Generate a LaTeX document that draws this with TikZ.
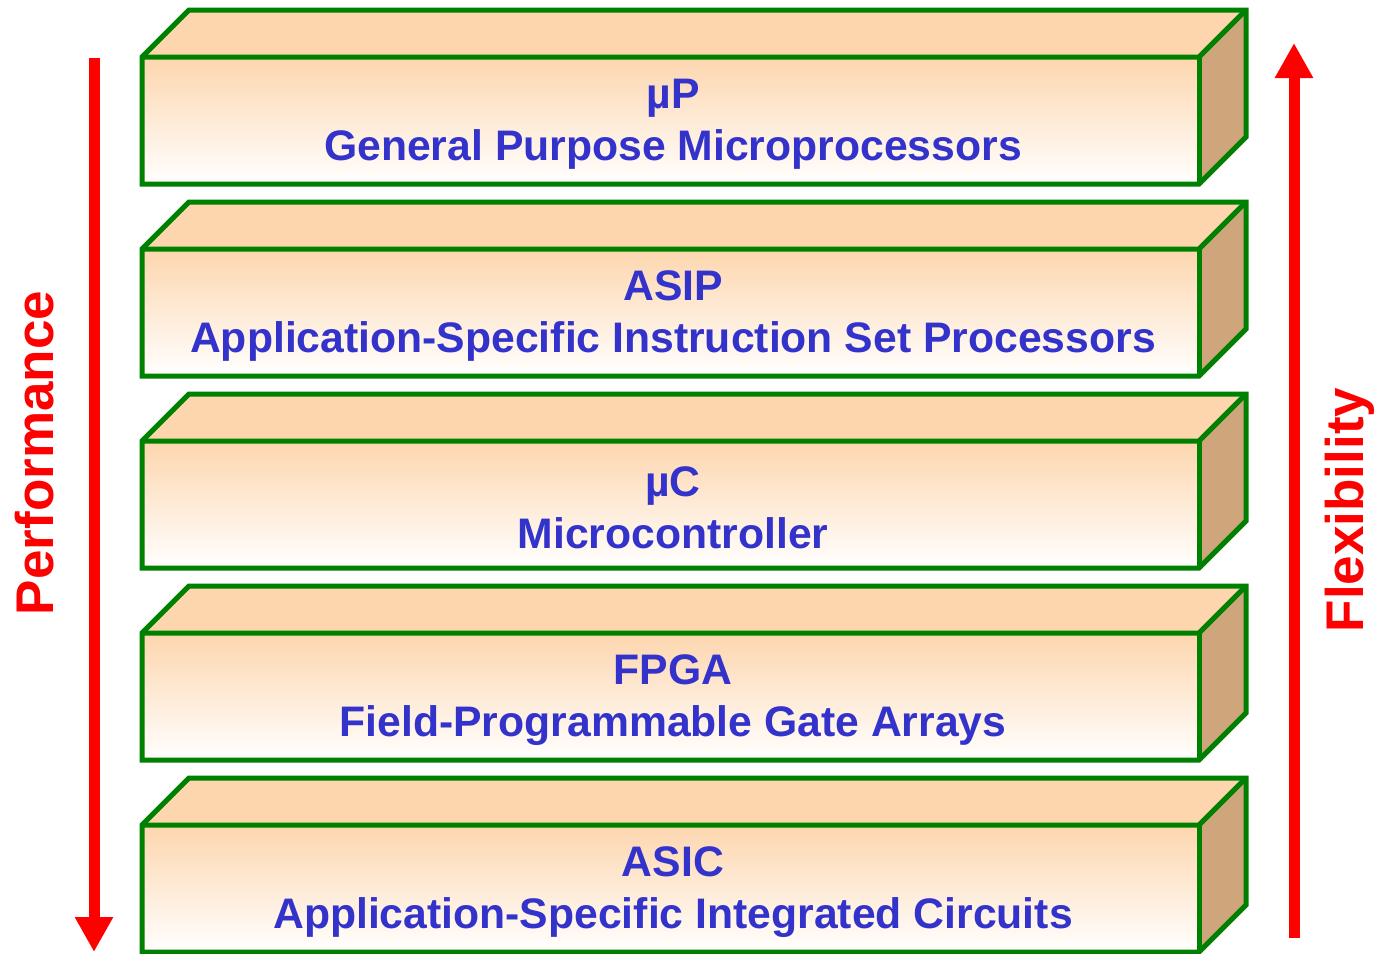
\documentclass[tikz,border=0pt]{standalone}
\usepackage{fontspec}
\setmainfont{Liberation Sans}
\usetikzlibrary{arrows.meta}
\definecolor{edgegreen}{RGB}{0,128,0}
\definecolor{peach}{RGB}{253,214,174}
\definecolor{sidetan}{RGB}{207,165,123}
\definecolor{labelblue}{RGB}{51,51,204}
\definecolor{arrowred}{RGB}{255,0,0}

% One layer of the stack: a box seen from the front, its top and right side
% #1 node name, #2 y of the front face's top edge, #3 short name, #4 long name
\newcommand\stacklayer[4]{%
  \fill[peach] (142,#2) -- (189,{#2-47}) -- (1246,{#2-47}) -- (1199,#2) -- cycle;
  \fill[sidetan] (1199,#2) -- (1246,{#2-47}) -- (1246,{#2+80}) -- (1199,{#2+127}) -- cycle;
  \shade[top color=peach,bottom color=white] (142,#2) rectangle (1199,{#2+127});
  \draw[boxline] (142,#2) -- (189,{#2-47}) -- (1246,{#2-47}) -- (1246,{#2+80})
     -- (1199,{#2+127}) -- (142,{#2+127}) -- cycle;
  \draw[boxline] (142,#2) -- (1199,#2) -- (1246,{#2-47});
  \draw[boxline] (1199,#2) -- (1199,{#2+127});
  \node[layertext] (#1) at (673,{#2+67}) {#3\\#4};
}

\begin{document}
\begin{tikzpicture}[x=1pt,y=-1pt,
  boxline/.style={draw=edgegreen,line width=5pt,line join=miter},
  layertext/.style={text=labelblue,align=center,font=\fontsize{42.7}{52}\selectfont\bfseries},
  sidelabel/.style={text=arrowred,rotate=90,font=\fontsize{53}{60}\selectfont\bfseries},
  trend/.style={draw=arrowred,line width=11pt,-{Triangle[length=35pt,width=36pt]}}]
\useasboundingbox (0,0) rectangle (1375,953);

\stacklayer{up}{57}{µP}{General Purpose Microprocessors}
\stacklayer{asip}{249}{ASIP}{Application-Specific Instruction Set Processors}
\stacklayer{uc}{441}{µC}{Microcontroller}
\stacklayer{fpga}{633}{FPGA}{Field-Programmable Gate Arrays}
\stacklayer{asic}{825}{ASIC}{Application-Specific Integrated Circuits}

\coordinate (perfTop) at (94,58);
\coordinate (perfEnd) at (94,952);
\coordinate (flexBot) at (1294,938);
\coordinate (flexEnd) at (1294,43);
\draw[trend] (perfTop) -- (perfEnd);
\draw[trend] (flexBot) -- (flexEnd);

\node[sidelabel] (perf) at (35,453) {Performance};
\node[sidelabel] (flex) at (1350,510) {Flexibility};
\end{tikzpicture}
\end{document}
